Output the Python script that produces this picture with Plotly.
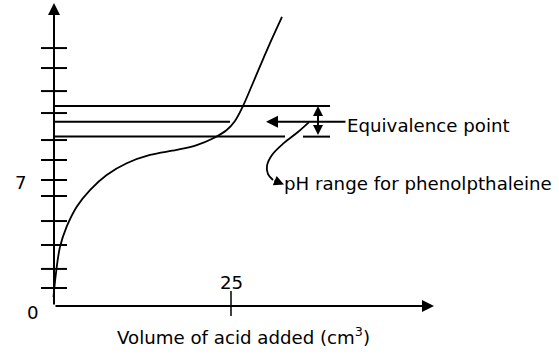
import plotly.graph_objects as go

# ---- data ----
# titration curve: volume of acid added (cm3) vs pH
volume = [-0.07, 0.28, 0.85, 1.79, 3.21, 5.08, 7.44, 10.27, 13.56, 17.33,
          20.16, 22.5, 24.4, 25.56, 26.69, 28.1, 30.08, 32.2]
ph = [0.5, 1.83, 3.29, 4.41, 5.52, 6.44, 7.28, 7.93, 8.39, 8.67,
      8.94, 9.32, 9.78, 10.28, 11.11, 12.39, 14.22, 16.06]

# y tick marks (pH) and labelled ticks
ytick_ph = [14.33, 13.22, 11.94, 10.72, 9.22, 8.11, 7.0, 6.11, 4.72, 3.39, 2.06, 1.0]
ytick_labels = [7]
origin_label = "0"
xtick_vol = [25]

# indicator range and equivalence level (pH)
ph_range_top = 11.11
equivalence_ph = 10.24
ph_range_bottom = 9.41

# curved pointer from equivalence arrow to the range label
pointer_vol = [36.02, 34.46, 32.49, 30.79, 30.08, 30.23, 30.93]
pointer_ph = [10.22, 9.67, 9.06, 8.39, 7.78, 7.33, 7.0]

# ---- layout helpers (pixel -> data) ----
PX_PER_VOL = 7.08
PX_PER_PH = 18.0
X0_PX, Y0_PX = 54, 306
def vx(px):
    return (px - X0_PX) / PX_PER_VOL
def vy(py):
    return (Y0_PX - py) / PX_PER_PH

FONT = dict(family="DejaVu Sans", size=18.2, color="black")
LW = 2

fig = go.Figure()

# titration curve
fig.add_trace(go.Scatter(x=volume, y=ph, mode="lines",
                         line=dict(color="black", width=1.8, shape="spline", smoothing=1.0),
                         hoverinfo="skip", showlegend=False))
# curved pointer
fig.add_trace(go.Scatter(x=pointer_vol, y=pointer_ph, mode="lines",
                         line=dict(color="black", width=1.8, shape="spline", smoothing=1.0),
                         hoverinfo="skip", showlegend=False))

shapes = []
# y ticks crossing the axis
for v in ytick_ph:
    shapes.append(dict(type="line", x0=vx(41), x1=vx(67), y0=v, y1=v,
                       line=dict(color="black", width=LW)))
# x tick
for v in xtick_vol:
    shapes.append(dict(type="line", x0=v, x1=v, y0=vy(291), y1=vy(316),
                       line=dict(color="black", width=1.5)))
# horizontal level lines
shapes.append(dict(type="line", x0=0, x1=vx(330), y0=ph_range_top, y1=ph_range_top,
                   line=dict(color="black", width=LW)))
shapes.append(dict(type="line", x0=0, x1=vx(230), y0=equivalence_ph, y1=equivalence_ph,
                   line=dict(color="black", width=LW)))
shapes.append(dict(type="line", x0=0, x1=vx(285), y0=ph_range_bottom, y1=ph_range_bottom,
                   line=dict(color="black", width=LW)))
shapes.append(dict(type="line", x0=vx(303), x1=vx(330), y0=ph_range_bottom, y1=ph_range_bottom,
                   line=dict(color="black", width=LW)))

def arrow(x, y, ax, ay, side="end", size=1.2, width=LW):
    return dict(x=x, y=y, ax=ax, ay=ay, xref="x", yref="y", axref="x", ayref="y",
                text="", showarrow=True, arrowhead=2, startarrowhead=2,
                arrowsize=size, startarrowsize=size, arrowwidth=width,
                arrowcolor="black", arrowside=side)

annotations = [
    # axes
    arrow(0, vy(3), 0, 0),
    arrow(vx(434), 0, 0, 0),
    # equivalence pointer
    arrow(vx(266), equivalence_ph, vx(347), equivalence_ph),
    # indicator range double arrow
    arrow(vx(318), ph_range_top, vx(318), ph_range_bottom, side="end+start", size=1.0),
    # head of curved pointer
    arrow(vx(284), vy(184.5), pointer_vol[-1], pointer_ph[-1], size=1.0),
]

def label(text, x, y, xanchor="center"):
    return dict(x=x, y=y, xref="x", yref="y", text=text, showarrow=False,
                xanchor=xanchor, yanchor="middle", font=FONT)

annotations += [
    label("Equivalence point", vx(345), vy(125), "left"),
    label("pH range for phenolpthaleine", vx(282), vy(183), "left"),
    label(origin_label, vx(33), vy(312)),
    label("Volume of acid added (cm<sup>3</sup>)", vx(243), vy(336)),
]
for v in ytick_labels:
    annotations.append(label(str(v), vx(21), v - 2.5 / PX_PER_PH))
for v in xtick_vol:
    annotations.append(label(str(v), v, vy(282.5)))

fig.update_layout(
    width=559, height=356,
    margin=dict(l=0, r=0, t=0, b=0),
    paper_bgcolor="white", plot_bgcolor="white",
    xaxis=dict(range=[vx(0), vx(559)], visible=False, fixedrange=True),
    yaxis=dict(range=[vy(356), vy(0)], visible=False, fixedrange=True),
    shapes=shapes, annotations=annotations, showlegend=False,
)

fig.write_html("out.html")
